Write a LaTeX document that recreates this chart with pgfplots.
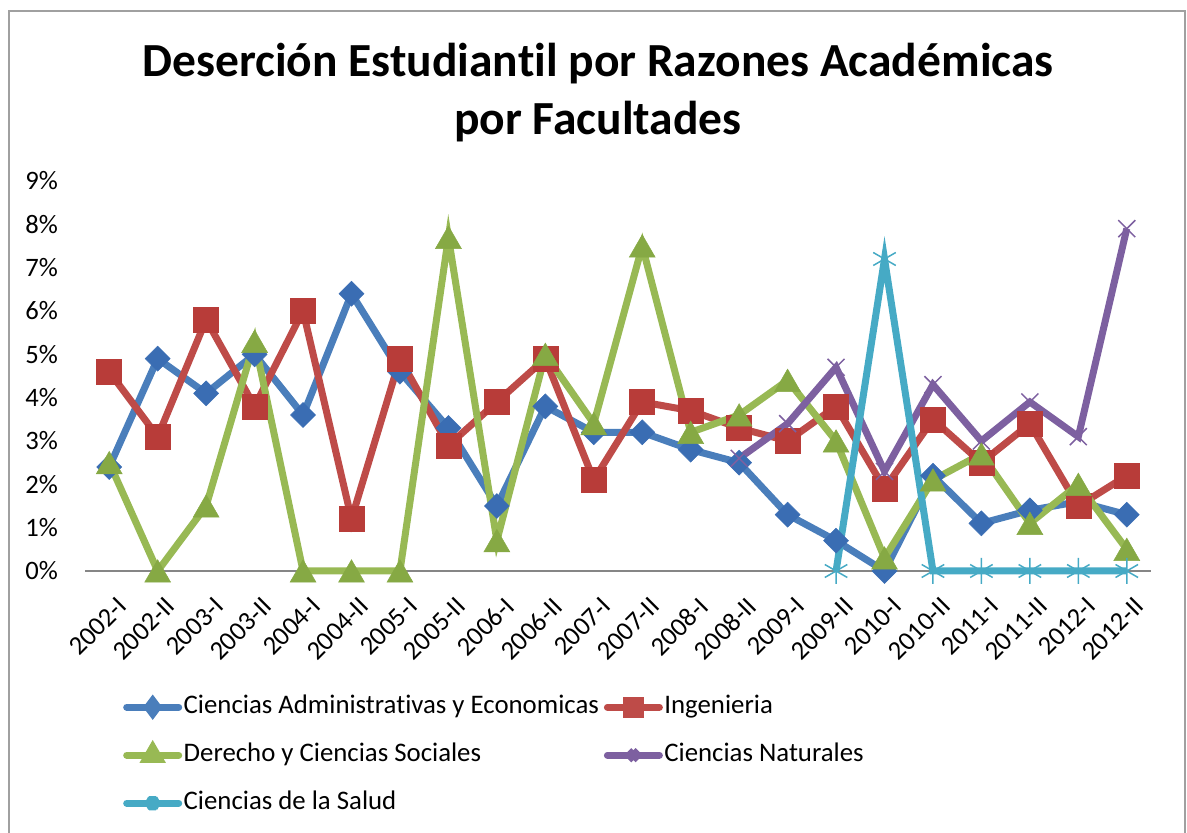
\documentclass[border=0pt]{standalone}
\usepackage{fontspec}
\setmainfont{Carlito}[Ligatures={NoCommon}]
\usepackage{pgfplots}
\pgfplotsset{compat=1.18}
\definecolor{cblue}{HTML}{4A7EBB}
\definecolor{cred}{HTML}{BE4B48}
\definecolor{cgreen}{HTML}{98B954}
\definecolor{cpurple}{HTML}{7D60A0}
\definecolor{ccyan}{HTML}{46AAC5}
\definecolor{mblue}{HTML}{3A6DB3}
\definecolor{mred}{HTML}{B83C39}
\definecolor{mgreen}{HTML}{86A944}
\definecolor{frame}{HTML}{A0A0A0}
\definecolor{axisgray}{HTML}{868686}
\begin{document}
\begin{tikzpicture}[x=1bp,y=1bp]
\useasboundingbox (0,0) rectangle (1187,833);
\draw[frame, line width=1.5bp] (9,-20) -- (9,822) -- (1185,822) -- (1185,-20);
\node[font=\fontsize{47.5bp}{58bp}\selectfont\bfseries, anchor=base] at (598,756) {Deserción Estudiantil por Razones Académicas};
\node[font=\fontsize{47.5bp}{58bp}\selectfont\bfseries, anchor=base] at (598,698) {por Facultades};
\begin{axis}[
  at={(85bp,262bp)}, anchor=south west,
  scale only axis, width=1066bp, height=390bp,
  xmin=-0.5, xmax=21.5, ymin=0, ymax=9,
  clip=false,
  axis line style={draw=none},
  major tick length=0pt,
  xtick={0,...,21},
  xticklabels={2002-I,2002-II,2003-I,2003-II,2004-I,2004-II,2005-I,2005-II,2006-I,2006-II,2007-I,2007-II,2008-I,2008-II,2009-I,2009-II,2010-I,2010-II,2011-I,2011-II,2012-I,2012-II},
  ytick={0,...,9},
  yticklabel={\pgfmathprintnumber{\tick}\%},
  /pgf/number format/assume math mode=true,
  tick label style={font=\fontsize{26.6bp}{32bp}\selectfont},
  yticklabel style={anchor=east, inner sep=0pt, xshift=-27bp},
  xticklabel style={xshift=13bp, yshift=-31bp, rotate=45, anchor=east, inner sep=0pt},
  legend columns=2,
  legend cell align=left,
  legend style={draw=none, fill=none, inner sep=0pt,
    at={(38bp,-124bp)}, anchor=north west,
    font=\fontsize{26.8bp}{32bp}\selectfont,
    nodes={inner sep=0pt, text height=18bp, text depth=6bp},
    column sep=1.5bp, row sep=24bp,
    /tikz/every even column/.append style={column sep=5bp}},
  legend image code/.code={
    \draw[#1, mark=none, line cap=round] (0bp,0bp) -- (52bp,0bp);
    \draw[#1, mark options={scale=0.55}, draw=none] plot coordinates {(26bp,0bp)};
  },
]
\draw[axisgray, line width=2bp] (axis cs:-0.5,0) -- (axis cs:21.5,0);
\addplot[cblue, line width=7bp, mark=diamond*, mark size=12.5bp,
  mark options={fill=mblue, draw=mblue, line width=0.5bp, xscale=1.333}]
  coordinates {(0,2.4)(1,4.9)(2,4.1)(3,5.0)(4,3.6)(5,6.4)(6,4.6)(7,3.3)(8,1.5)(9,3.8)(10,3.2)(11,3.2)(12,2.8)(13,2.5)(14,1.3)(15,0.7)(16,0.0)(17,2.2)(18,1.1)(19,1.4)(20,1.6)(21,1.3)};
\addlegendentry{Ciencias Administrativas y Economicas}
\addplot[cred, line width=7bp, mark=square*, mark size=12.5bp,
  mark options={fill=mred, draw=mred, line width=0.5bp}]
  coordinates {(0,4.6)(1,3.1)(2,5.8)(3,3.8)(4,6.0)(5,1.2)(6,4.9)(7,2.9)(8,3.9)(9,4.9)(10,2.1)(11,3.9)(12,3.7)(13,3.3)(14,3.0)(15,3.8)(16,1.9)(17,3.5)(18,2.5)(19,3.4)(20,1.5)(21,2.2)};
\addlegendentry{Ingenieria}
\addplot[cgreen, line width=7bp, mark=triangle*, mark size=15bp,
  mark options={fill=mgreen, draw=mgreen, line width=0.5bp, yshift=-3.75bp}]
  coordinates {(0,2.5)(1,0)(2,1.5)(3,5.3)(4,0)(5,0)(6,0)(7,7.7)(8,0.7)(9,5.0)(10,3.4)(11,7.5)(12,3.2)(13,3.6)(14,4.4)(15,3.0)(16,0.3)(17,2.1)(18,2.7)(19,1.1)(20,2.0)(21,0.5)};
\addlegendentry{Derecho y Ciencias Sociales}
\addplot[cpurple, line width=7bp, mark=x, mark size=12bp,
  mark options={line width=1.5bp}]
  coordinates {(13,2.6)(14,3.4)(15,4.7)(16,2.3)(17,4.3)(18,3.0)(19,3.9)(20,3.1)(21,7.9)};
\addlegendentry{Ciencias Naturales}
\addplot[ccyan, line width=7bp, mark=asterisk, mark size=13bp,
  mark options={line width=1.5bp}]
  coordinates {(15,0)(16,7.2)(17,0)(18,0)(19,0)(20,0)(21,0)};
\addlegendentry{Ciencias de la Salud}
\end{axis}
\end{tikzpicture}
\end{document}
